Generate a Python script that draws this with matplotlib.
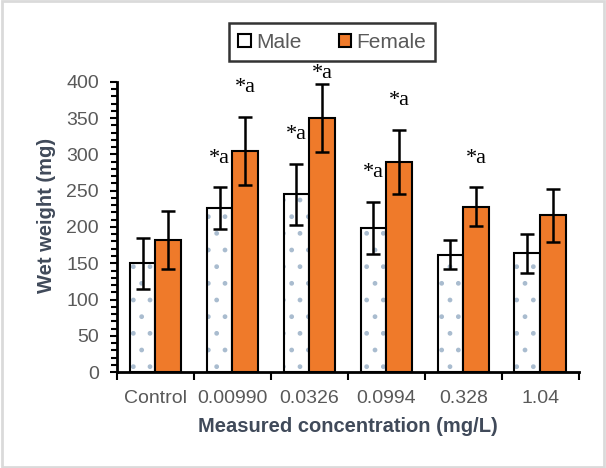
import numpy as np
import matplotlib
matplotlib.use("Agg")
import matplotlib.pyplot as plt
from matplotlib.patches import Patch, Rectangle
from matplotlib.ticker import MultipleLocator, FixedLocator, NullFormatter

# wet weight (mg), mean and error per group
groups = ["Control", "0.00990", "0.0326", "0.0994", "0.328", "1.04"]
male_mean = [150, 226, 245, 199, 162, 164]
male_err = [35, 29, 42, 36, 20, 27]
female_mean = [182, 305, 350, 290, 228, 216]
female_err = [40, 47, 47, 44, 27, 37]
male_sig = [False, True, True, True, False, False]
female_sig = [False, True, True, True, True, False]

ORANGE = "#EF7A2A"
TICK_GREY = "#595959"
TITLE_GREY = "#404A5A"

plt.rcParams["font.family"] = ["Liberation Sans", "DejaVu Sans"]

fig = plt.figure(figsize=(6.06, 4.68), dpi=100)
ax = fig.add_axes([0.193, 0.205, 0.762, 0.62])

x = np.arange(len(groups))
w = 0.335
xm = x - w / 2
xf = x + w / 2

# male bars: dotted fill first, outline on top
ax.bar(xm, male_mean, w, color="white", edgecolor="#a9bccf", hatch=".", linewidth=0, zorder=2)
ax.bar(xm, male_mean, w, color="none", edgecolor="black", linewidth=1.5, zorder=3)
ax.bar(xf, female_mean, w, color=ORANGE, edgecolor="black", linewidth=1.5, zorder=3)

ekw = dict(fmt="none", ecolor="black", elinewidth=1.8, capsize=5, capthick=1.8, zorder=4)
ax.errorbar(xm, male_mean, yerr=male_err, **ekw)
ax.errorbar(xf, female_mean, yerr=female_err, **ekw)

# significance marks
for xs, means, errs, sig in [(xm, male_mean, male_err, male_sig),
                             (xf, female_mean, female_err, female_sig)]:
    for xi, m, e, s in zip(xs, means, errs, sig):
        if s:
            y = min(m + e + 40, 412)
            ax.text(xi, y, "*a", ha="center", va="center", fontsize=16,
                    family=["Liberation Serif", "DejaVu Serif"], clip_on=False, zorder=5)

ax.set_xlim(-0.5, len(groups) - 0.5)
ax.set_ylim(0, 400)

for s in ["top", "right"]:
    ax.spines[s].set_visible(False)
for s in ["left", "bottom"]:
    ax.spines[s].set_linewidth(2)

ax.yaxis.set_major_locator(MultipleLocator(50))
ax.yaxis.set_minor_locator(MultipleLocator(10))
ax.tick_params(axis="y", which="major", length=5, width=1.5, pad=8,
               labelsize=14, labelcolor=TICK_GREY)
ax.tick_params(axis="y", which="minor", length=4, width=1.5)

ax.xaxis.set_major_locator(FixedLocator(np.arange(-0.5, len(groups), 1.0)))
ax.xaxis.set_major_formatter(NullFormatter())
ax.xaxis.set_minor_locator(FixedLocator(x))
ax.set_xticklabels(groups, minor=True)
ax.tick_params(axis="x", which="major", length=6, width=1.5)
ax.tick_params(axis="x", which="minor", length=0, pad=13,
               labelsize=14, labelcolor=TICK_GREY)

ax.set_xlabel("Measured concentration (mg/L)", fontsize=14.5, fontweight="bold",
              color=TITLE_GREY, labelpad=7)
ax.set_ylabel("Wet weight (mg)", fontsize=14.5, fontweight="bold",
              color=TITLE_GREY, va="center")
ax.yaxis.set_label_coords(-0.152, 0.54)

handles = [Patch(facecolor="white", edgecolor="black", linewidth=1.5, label="Male"),
           Patch(facecolor=ORANGE, edgecolor="black", linewidth=1.5, label="Female")]
leg = fig.legend(handles=handles, loc="center", bbox_to_anchor=(0.548, 0.91),
                 ncol=2, fontsize=15, frameon=True, fancybox=False,
                 handlelength=0.6, handleheight=0.6, handletextpad=0.25,
                 columnspacing=1.8, borderpad=0.45, borderaxespad=0,
                 labelcolor=TICK_GREY)
leg.get_frame().set_edgecolor("black")
leg.get_frame().set_linewidth(1.8)

# light frame around the whole figure
fig.patches.append(Rectangle((0.003, 0.003), 0.994, 0.994, transform=fig.transFigure,
                             fill=False, edgecolor="#dadada", linewidth=2))

fig.savefig("out.png", dpi=100)
